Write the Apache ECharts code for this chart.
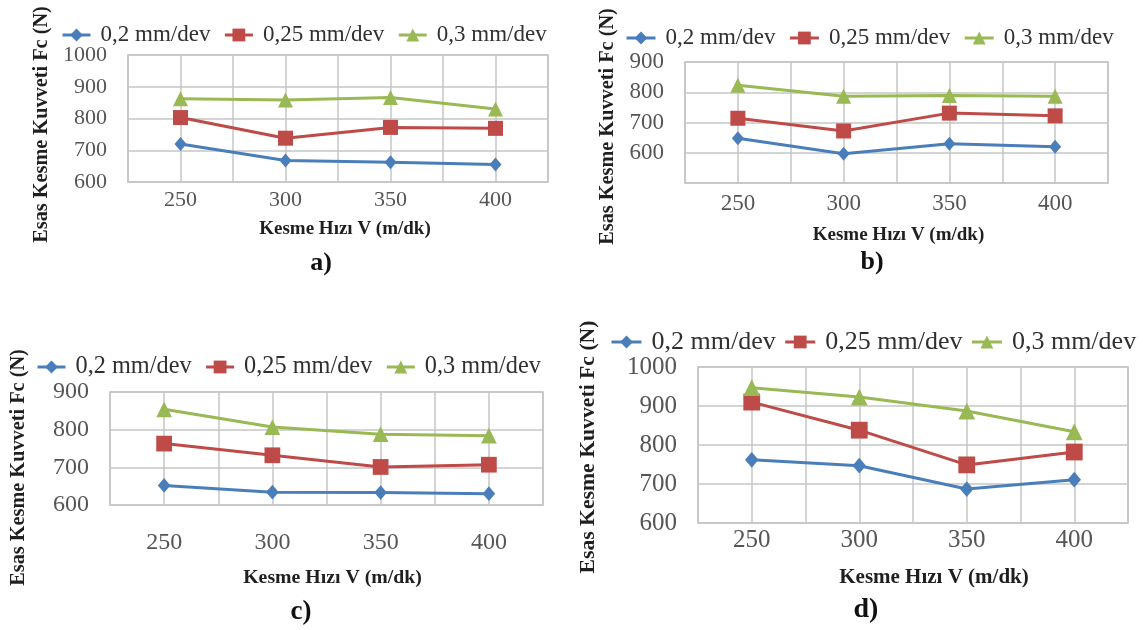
<!DOCTYPE html>
<html><head><meta charset="utf-8">
<script src="https://cdn.jsdelivr.net/npm/echarts@6/dist/echarts.min.js"></script>
<style>html,body{margin:0;padding:0;background:#fff}#c{width:1143px;height:630px}</style>
</head><body><div id="c"></div>
<script>
// ---------- data ----------
const speeds = [250, 300, 350, 400];
const xTickLabels = [250, 300, 350, 400];
const feedNames = ['0,2 mm/dev', '0,25 mm/dev', '0,3 mm/dev'];

const panelA_f02 = [720, 668, 662, 655];
const panelA_f025 = [803, 738, 772, 769];
const panelA_f03 = [862, 858, 866, 830];

const panelB_f02 = [648, 597, 630, 620];
const panelB_f025 = [714, 672, 731, 722];
const panelB_f03 = [823, 787, 789, 787];

const panelC_f02 = [652, 634, 633, 630];
const panelC_f025 = [763, 732, 701, 707];
const panelC_f03 = [854, 807, 788, 784];

const panelD_f02 = [762, 747, 687, 711];
const panelD_f025 = [910, 838, 749, 782];
const panelD_f03 = [947, 923, 887, 834];

const yTickLabelsA = [600, 700, 800, 900, 1000];
const yTickLabelsB = [600, 700, 800, 900];
const yTickLabelsC = [600, 700, 800, 900];
const yTickLabelsD = [600, 700, 800, 900, 1000];

const panelLabels = ['a)', 'b)', 'c)', 'd)'];
const xAxisTitle = 'Kesme Hızı V (m/dk)';
const yAxisTitle = 'Esas Kesme Kuvveti Fc (N)';

// ---------- layout / style ----------
const FONT = "'Liberation Serif','Times New Roman',serif";
const colors = ['#4a7ebb', '#be4b48', '#98b954'];
const symbols = ['diamond', 'rect', 'triangle'];

const panels = [
  { vals: [panelA_f02, panelA_f025, panelA_f03], yTicks: yTickLabelsA, ymin: 600, ymax: 1000,
    grid: { left: 128, top: 55, width: 420, height: 127 },
    tickFont: 22, xLabelMargin: 7, xNameFont: 19, yNameFont: 20.3, xNameGap: 38, xNameShift: 7, yNameGap: 76, yNameShift: 6,
    legend: { left: 61, cy: 35, font: 23, iconW: 28, gap: 13 },
    letter: { x: 321, y: 263, size: 26 }, sym: 1 },
  { vals: [panelB_f02, panelB_f025, panelB_f03], yTicks: yTickLabelsB, ymin: 500, ymax: 900,
    grid: { left: 685, top: 62, width: 423, height: 121 },
    tickFont: 23, xLabelMargin: 9, xNameFont: 19, yNameFont: 20.3, xNameGap: 43, xNameShift: 2, yNameGap: 67, yNameShift: 4,
    legend: { left: 625, cy: 38, font: 23, iconW: 29, gap: 13 },
    letter: { x: 872, y: 262, size: 26 }, sym: 1 },
  { vals: [panelC_f02, panelC_f025, panelC_f03], yTicks: yTickLabelsC, ymin: 600, ymax: 900,
    grid: { left: 110, top: 392, width: 433, height: 113 },
    tickFont: 24, xLabelMargin: 26, xNameFont: 19.8, yNameFont: 20.3, xNameGap: 63, xNameShift: 6, yNameGap: 81, yNameShift: 19,
    legend: { left: 36, cy: 367, font: 24.3, iconW: 28, gap: 13 },
    letter: { x: 301, y: 612, size: 27 }, sym: 1.05 },
  { vals: [panelD_f02, panelD_f025, panelD_f03], yTicks: yTickLabelsD, ymin: 600, ymax: 1000,
    grid: { left: 698, top: 367, width: 430, height: 156 },
    tickFont: 25, xLabelMargin: 5, xNameFont: 21, yNameFont: 21.7, xNameGap: 44, xNameShift: 21, yNameGap: 99, yNameShift: 2,
    legend: { left: 610, cy: 342, font: 26, iconW: 30, gap: 8 },
    letter: { x: 866, y: 610, size: 28 }, sym: 1.12 }
];

const grids = [], xAxes = [], yAxes = [], series = [], legends = [], graphics = [];

panels.forEach((p, i) => {
  grids.push(Object.assign({ show: true, borderColor: '#bdbdbd', borderWidth: 1.5, containLabel: false }, p.grid));

  xAxes.push({
    gridIndex: i, type: 'value', min: 225, max: 425, interval: 25,
    axisLine: { show: false }, axisTick: { show: false },
    splitLine: { show: true, lineStyle: { color: '#c6c6c6', width: 1.5 } },
    axisLabel: {
      margin: p.xLabelMargin, color: '#555555', fontFamily: FONT, fontSize: p.tickFont,
      formatter: v => xTickLabels.includes(v) ? String(v) : ''
    },
    name: xAxisTitle, nameLocation: 'middle', nameGap: p.xNameGap,
    nameTextStyle: { fontFamily: FONT, fontWeight: 'bold', fontSize: p.xNameFont, color: '#1f1f1f',
      padding: [0, 0, 0, 2 * p.xNameShift] }
  });

  yAxes.push({
    gridIndex: i, type: 'value', min: p.ymin, max: p.ymax, interval: 100,
    axisLine: { show: false }, axisTick: { show: false },
    splitLine: { show: true, lineStyle: { color: '#c6c6c6', width: 1.5 } },
    axisLabel: {
      margin: 21, color: '#555555', fontFamily: FONT, fontSize: p.tickFont,
      formatter: v => p.yTicks.includes(v) ? String(v) : ''
    },
    name: yAxisTitle, nameLocation: 'middle', nameRotate: 90, nameGap: p.yNameGap,
    nameTextStyle: { fontFamily: FONT, fontWeight: 'bold', fontSize: p.yNameFont, color: '#1f1f1f',
      padding: [0, 2 * p.yNameShift, 0, 0] }
  });

  const symSizes = [[12 * p.sym, 14 * p.sym], 15 * p.sym, [15 * p.sym, 15 * p.sym]];
  p.vals.forEach((vals, k) => {
    series.push({
      type: 'line', name: feedNames[k], xAxisIndex: i, yAxisIndex: i,
      data: speeds.map((s, j) => [s, vals[j]]),
      symbol: symbols[k], symbolSize: symSizes[k],
      lineStyle: { color: colors[k], width: 3 },
      itemStyle: { color: colors[k] },
      z: 3 + k, animation: false
    });
  });

  legends.push({
    left: p.legend.left, top: p.legend.cy - 14, width: 1143 - p.legend.left, padding: 0, orient: 'horizontal',
    data: feedNames, itemWidth: p.legend.iconW, itemHeight: 16, itemGap: p.legend.gap,
    selectedMode: false,
    lineStyle: { width: 3 },
    textStyle: { fontFamily: FONT, fontSize: p.legend.font, color: '#303030', lineHeight: 28, padding: [0, 0, 0, 5] }
  });

  graphics.push({
    type: 'text', x: p.letter.x, y: p.letter.y,
    style: { text: panelLabels[i], fontFamily: FONT, fontWeight: 'bold', fontSize: p.letter.size,
      fill: '#111111', textAlign: 'center', textVerticalAlign: 'middle' }
  });
});

const chart = echarts.init(document.getElementById('c'), null, { renderer: 'canvas' });
chart.setOption({
  backgroundColor: '#ffffff',
  animation: false,
  grid: grids, xAxis: xAxes, yAxis: yAxes, series: series, legend: legends,
  graphic: graphics
});
</script></body></html>
